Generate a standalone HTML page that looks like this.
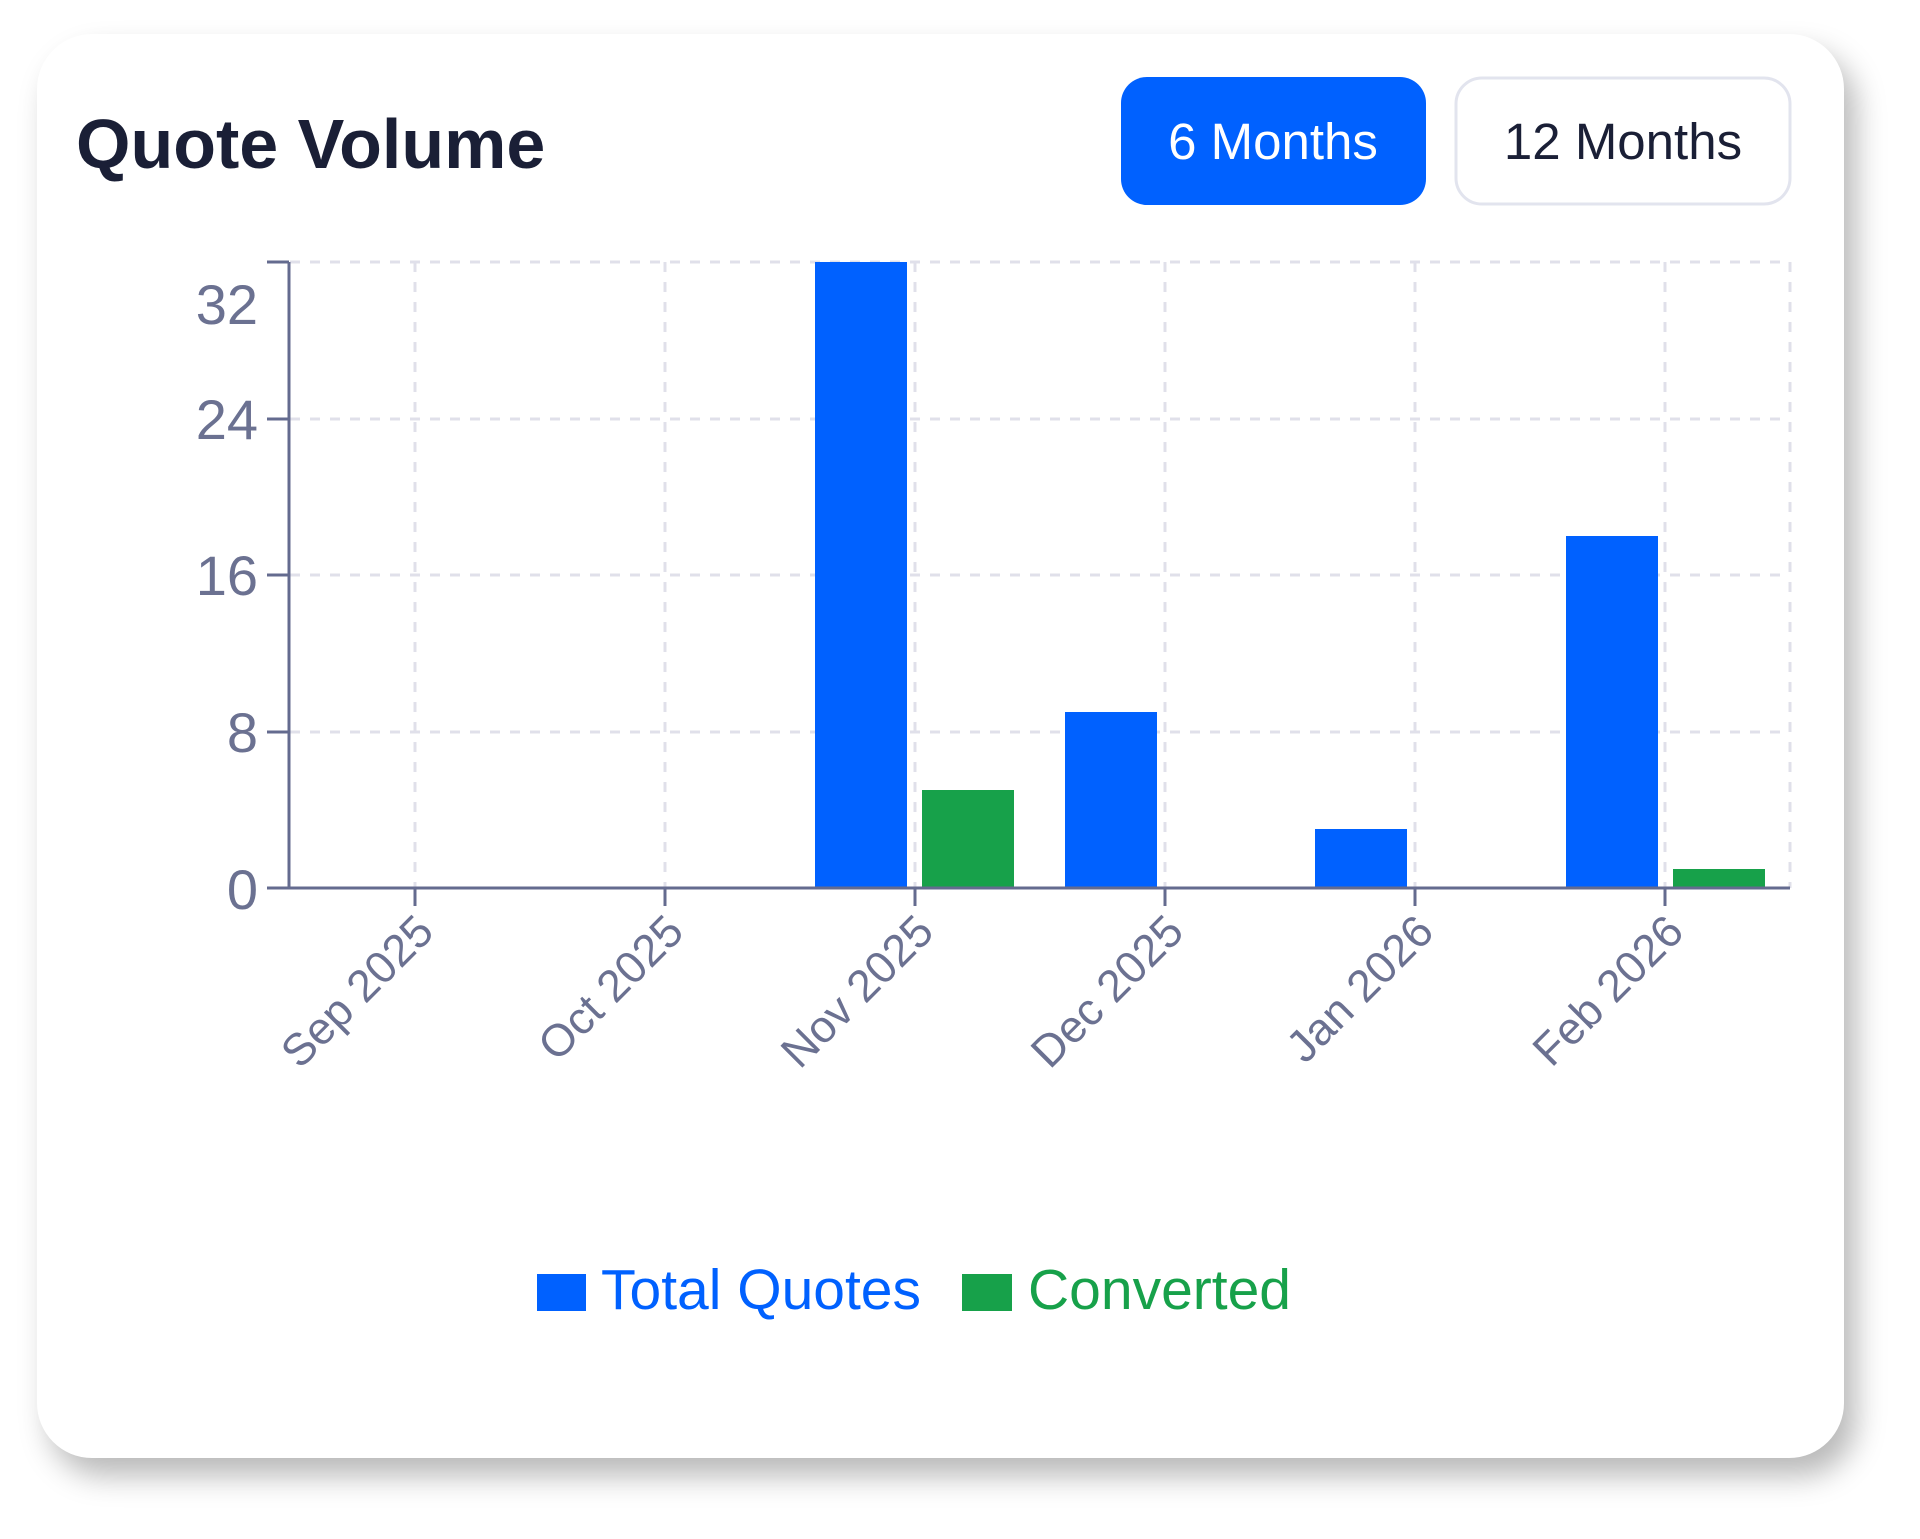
<!DOCTYPE html>
<html><head><meta charset="utf-8"><style>
html,body{margin:0;padding:0;background:#fff;width:1920px;height:1539px;overflow:hidden;font-family:"Liberation Sans",sans-serif}
.card{position:absolute;left:37px;top:34px;width:1807px;height:1424px;background:#fff;border-radius:55px;box-shadow:12px 18px 30px rgba(0,0,0,0.28)}
svg{position:absolute;left:0;top:0}
</style></head><body>
<div class="card"></div>
<svg width="1920" height="1539" viewBox="0 0 1920 1539" font-family="Liberation Sans, sans-serif">
<text x="76" y="168" font-size="70" font-weight="bold" fill="#1a1f36">Quote Volume</text>
<rect x="1121" y="77" width="305" height="128" rx="26" fill="#0061ff"/>
<text x="1273" y="159" font-size="51" fill="#fff" text-anchor="middle">6 Months</text>
<rect x="1456" y="78" width="334" height="126" rx="26" fill="#fff" stroke="#e2e4ee" stroke-width="3"/>
<text x="1623" y="159" font-size="51" fill="#1a1f36" text-anchor="middle">12 Months</text>
<g stroke="#e0e0ea" stroke-width="3" stroke-dasharray="10 10">
<line x1="290" y1="262" x2="1790" y2="262"/>
<line x1="290" y1="419" x2="1790" y2="419"/>
<line x1="290" y1="575" x2="1790" y2="575"/>
<line x1="290" y1="732" x2="1790" y2="732"/>
<line x1="415" y1="262" x2="415" y2="888"/>
<line x1="665" y1="262" x2="665" y2="888"/>
<line x1="915" y1="262" x2="915" y2="888"/>
<line x1="1165" y1="262" x2="1165" y2="888"/>
<line x1="1415" y1="262" x2="1415" y2="888"/>
<line x1="1665" y1="262" x2="1665" y2="888"/>
<line x1="1790" y1="262" x2="1790" y2="888"/>
</g>
<g fill="#0061ff">
<rect x="815" y="262" width="92" height="626"/>
<rect x="1065" y="712" width="92" height="176"/>
<rect x="1315" y="829" width="92" height="59"/>
<rect x="1566" y="536" width="92" height="352"/>
</g>
<g fill="#17a14a">
<rect x="922" y="790" width="92" height="98"/>
<rect x="1673" y="869" width="92" height="19"/>
</g>
<g stroke="#646b8f" stroke-width="3">
<line x1="289" y1="262" x2="289" y2="888"/>
<line x1="267" y1="888" x2="1790" y2="888"/>
<line x1="267" y1="262" x2="289" y2="262"/>
<line x1="267" y1="419" x2="289" y2="419"/>
<line x1="267" y1="575" x2="289" y2="575"/>
<line x1="267" y1="732" x2="289" y2="732"/>
<line x1="415" y1="888" x2="415" y2="906"/>
<line x1="665" y1="888" x2="665" y2="906"/>
<line x1="915" y1="888" x2="915" y2="906"/>
<line x1="1165" y1="888" x2="1165" y2="906"/>
<line x1="1415" y1="888" x2="1415" y2="906"/>
<line x1="1665" y1="888" x2="1665" y2="906"/>
</g>
<g font-size="56" fill="#6b7191" text-anchor="end">
<text x="258" y="324">32</text>
<text x="258" y="439">24</text>
<text x="258" y="595">16</text>
<text x="258" y="752">8</text>
<text x="258" y="909">0</text>
</g>
<g font-size="45" fill="#6b7191" text-anchor="end">
<text transform="translate(436,934) rotate(-45)">Sep 2025</text>
<text transform="translate(686,934) rotate(-45)">Oct 2025</text>
<text transform="translate(936,934) rotate(-45)">Nov 2025</text>
<text transform="translate(1186,934) rotate(-45)">Dec 2025</text>
<text transform="translate(1436,934) rotate(-45)">Jan 2026</text>
<text transform="translate(1686,934) rotate(-45)">Feb 2026</text>
</g>
<rect x="537" y="1274" width="49" height="37" fill="#0061ff"/>
<text x="601" y="1309" font-size="57" fill="#0061ff">Total Quotes</text>
<rect x="962" y="1274" width="50" height="37" fill="#17a14a"/>
<text x="1028" y="1309" font-size="57" fill="#17a14a">Converted</text>
</svg>
</body></html>
